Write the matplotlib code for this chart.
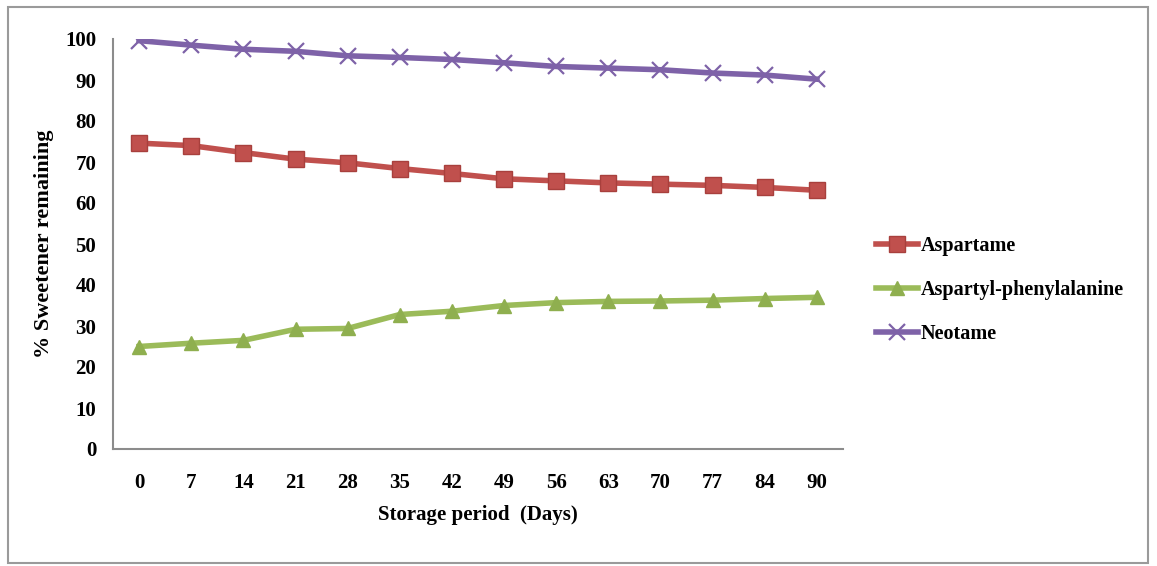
import matplotlib
matplotlib.use("Agg")
import matplotlib.pyplot as plt
from matplotlib.patches import Rectangle

days = ["0", "7", "14", "21", "28", "35", "42", "49", "56", "63", "70", "77", "84", "90"]
aspartame = [74.6, 74.0, 72.3, 70.7, 69.8, 68.4, 67.2, 65.9, 65.4, 64.9, 64.6, 64.3, 63.8, 63.1]
aspartyl_phe = [25.0, 25.8, 26.5, 29.2, 29.4, 32.8, 33.6, 35.0, 35.7, 36.0, 36.1, 36.3, 36.7, 37.0]
neotame = [99.6, 98.5, 97.5, 97.0, 95.9, 95.5, 95.0, 94.2, 93.3, 92.9, 92.5, 91.7, 91.2, 90.2]
y_ticks = [0, 10, 20, 30, 40, 50, 60, 70, 80, 90, 100]

plt.rcParams['font.family'] = ['Liberation Serif', 'DejaVu Serif']
plt.rcParams['font.weight'] = 'bold'

fig = plt.figure(figsize=(11.57, 5.66), dpi=100)
ax = fig.add_axes([113/1157, 1-449/566, (843-113)/1157, (449-39)/566])

x = list(range(len(days)))
ax.plot(x, aspartame, color='#C0504D', lw=4, marker='s', ms=11,
        mfc='#C0504D', mec='#A8403D', label='Aspartame')
ax.plot(x, aspartyl_phe, color='#9BBB59', lw=4, marker='^', ms=10,
        mfc='#8FAF4F', mec='#8FAF4F', label='Aspartyl-phenylalanine')
ax.plot(x, neotame, color='#7E62A8', lw=4, marker='x', ms=11, mew=1.6,
        mec='#7E62A8', label='Neotame')

ax.set_xlim(-0.5, len(days) - 0.5)
ax.set_ylim(0, 100)
ax.set_xticks(x)
ax.set_xticklabels(days)
ax.set_yticks(y_ticks)
ax.tick_params(axis='both', length=0, labelsize=15)
ax.tick_params(axis='y', pad=12)
ax.tick_params(axis='x', pad=17)
for lab in ax.get_xticklabels() + ax.get_yticklabels():
    lab.set_fontweight('bold')

for s in ['top', 'right']:
    ax.spines[s].set_visible(False)
for s in ['left', 'bottom']:
    ax.spines[s].set_color('#8C8C8C')
    ax.spines[s].set_linewidth(1.5)

ax.set_xlabel('Storage period  (Days)', fontsize=15, fontweight='bold', labelpad=9)
ax.set_ylabel('% Sweetener remaining', fontsize=16, fontweight='bold', labelpad=8)

leg = fig.legend(loc='upper left', bbox_to_anchor=(868/1157, 1-228/566),
                 frameon=False, fontsize=14.5, handlelength=2.1, handletextpad=0.1,
                 labelspacing=1.2, borderaxespad=0)
for t in leg.get_texts():
    t.set_fontweight('bold')

fig.patches.append(Rectangle((8/1157, 3/566), 1140/1157, 556/566, transform=fig.transFigure,
                             fill=False, edgecolor='#9A9A9A', lw=1.5))

fig.savefig('out.png', dpi=100, facecolor='white')
